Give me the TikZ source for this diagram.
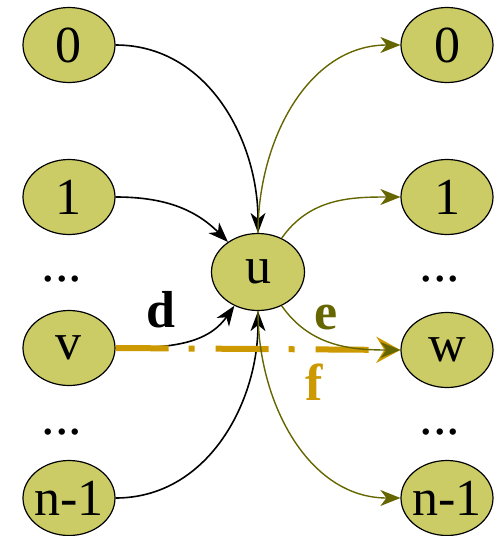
\documentclass[tikz,border=0pt]{standalone}
\usepackage{fontspec}
\setmainfont{Liberation Serif}
\usetikzlibrary{arrows.meta,shapes.geometric}
\definecolor{nodefill}{RGB}{204,204,102}
\definecolor{olive}{RGB}{102,102,0}
\definecolor{gold}{RGB}{204,153,0}
\begin{document}
\begin{tikzpicture}[x=1pt,y=-1pt,
  vert/.style={ellipse,draw=black,line width=1.2pt,fill=nodefill,minimum width=92pt,minimum height=75pt,inner sep=0pt,font=\fontsize{52}{54}\selectfont},
  dotsnode/.style={font=\fontsize{54}{56}\selectfont,inner sep=0pt},
  inedge/.style={draw=black,line width=1.6pt,-{Stealth[length=20pt,width=15pt,inset=6pt]}},
  outedge/.style={draw=olive,line width=1.4pt,-{Stealth[length=20pt,width=16pt,inset=6pt]}},
  lbl/.style={font=\fontsize{52}{54}\selectfont\bfseries,inner sep=0pt}]
\useasboundingbox (0,0) rectangle (495,536);
\node[vert] (L0) at (69,45) {0};
\node[vert] (L1) at (69,197) {1};
\node[dotsnode,anchor=base] (Ld1) at (62,281) {...};
\node[vert] (v) at (69,348) {v};
\node[dotsnode,anchor=base] (Ld2) at (62,434) {...};
\node[vert] (Ln) at (69,498) {\makebox[0pt]{n-1}};
\node[vert] (R0) at (447,45) {0};
\node[vert] (R1) at (447,197) {1};
\node[dotsnode,anchor=base] (Rd1) at (440,281) {...};
\node[vert] (w) at (447,350) {w};
\node[dotsnode,anchor=base] (Rd2) at (440,434) {...};
\node[vert] (Rn) at (447,498) {\makebox[0pt]{n-1}};
\node[vert,minimum width=93pt,minimum height=77pt] (u) at (258,272) {u};
% incoming
\draw[inedge] (L0) to[out=0,in=90] (u);
\draw[inedge] (L1) to[out=0,in=135] (u);
\draw[inedge] (v) to[out=0,in=-125] (u);
\draw[inedge] (Ln) to[out=0,in=-90] (u);
% f
\draw[draw=gold,line width=6pt,dash pattern=on 53pt off 20pt on 6pt off 21pt,-{Stealth[length=24pt,width=26pt,inset=8pt]}] (v.east) -- (w.west);
% outgoing
\draw[outedge] (u) to[out=90,in=180] (R0);
\draw[outedge] (u) to[out=55,in=180] (R1);
\draw[outedge] (u) to[out=-55,in=180] (w);
\draw[outedge] (u) to[out=-90,in=180] (Rn);
% labels
\node[lbl] (dl) at (161,310) {d};
\node[lbl,text=olive] (el) at (326,318) {e};
\node[lbl,text=gold] (fl) at (314,382) {f};
\end{tikzpicture}
\end{document}
